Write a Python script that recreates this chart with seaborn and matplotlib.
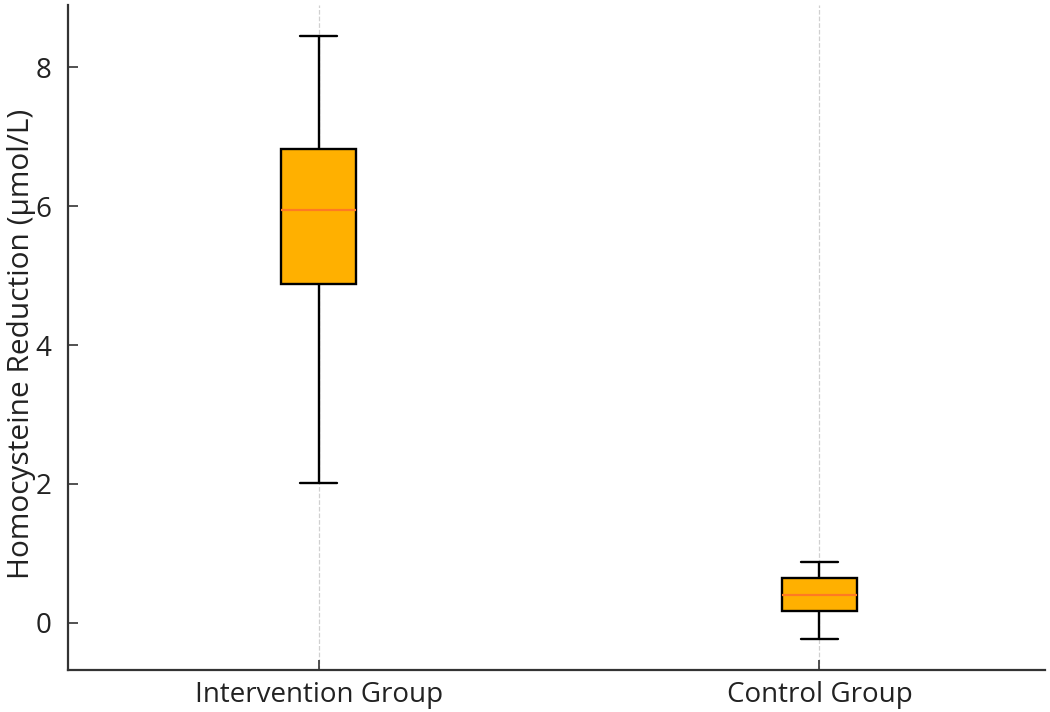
import matplotlib
matplotlib.use('Agg')

import numpy as np
import pandas as pd
import matplotlib.pyplot as plt
import seaborn as sns

# --------------------------------------------------------------------------- #
# DATA  (five-number summaries: min, Q1, median, Q3, max)
# --------------------------------------------------------------------------- #
GROUPS = ["Intervention Group", "Control Group"]
intervention_vals = [2.02, 4.88, 5.95, 6.82, 8.45]
control_vals = [-0.24, 0.17, 0.40, 0.65, 0.87]

BOX_COLOR = "#FFB000"
MEDIAN_COLOR = "#FF7A22"

df = pd.DataFrame({
    "group": [GROUPS[0]] * len(intervention_vals) + [GROUPS[1]] * len(control_vals),
    "value": intervention_vals + control_vals,
})

sns.set_style("white")
plt.rcParams['font.family'] = ['Open Sans', 'DejaVu Sans']

fig = plt.figure(figsize=(10.5, 7.12), dpi=100)
ax = fig.add_axes([0.065, 0.059, 0.93, 0.934])

sns.boxplot(data=df, x="group", y="value", order=GROUPS, ax=ax,
            color=BOX_COLOR, saturation=1, width=0.15,
            whis=(0, 100), linecolor="black", linewidth=1.7,
            medianprops={"color": MEDIAN_COLOR, "linewidth": 1.6},
            showfliers=False)

ax.set_xlim(-0.5, 1.45)
ax.set_ylim(-0.68, 8.9)
ax.set_yticks([0, 2, 4, 6, 8])
ax.set_xlabel("")
ax.set_ylabel("Homocysteine Reduction (µmol/L)", fontsize=21.5, color="#222222")
ax.yaxis.set_label_coords(-0.033, 0.49)

ax.xaxis.grid(True, linestyle="--", color="#d0d0d0", linewidth=0.9)
ax.yaxis.grid(False)
ax.set_axisbelow(True)

for side in ["top", "right"]:
    ax.spines[side].set_visible(False)
for side in ["left", "bottom"]:
    ax.spines[side].set_color("#333333")
    ax.spines[side].set_linewidth(1.6)

ax.tick_params(axis="both", direction="in", length=7, width=1.2,
               left=True, bottom=True,
               colors="#333333", labelsize=20, labelcolor="#222222")
ax.tick_params(axis="x", pad=8)
ax.tick_params(axis="y", pad=12)

plt.savefig("out.png", dpi=100)
plt.close()
